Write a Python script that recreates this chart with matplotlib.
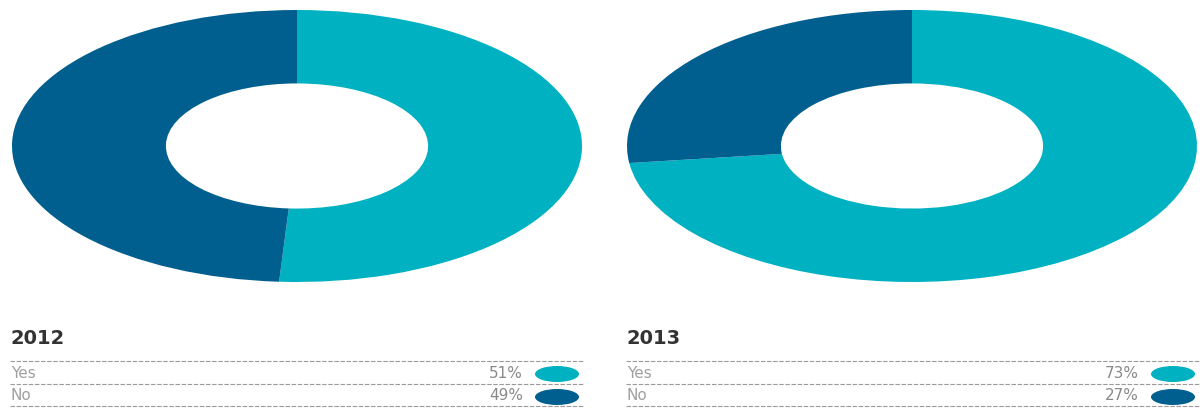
import matplotlib.pyplot as plt
from matplotlib.patches import Ellipse

## survey answers per year
years = ["2012", "2013"]
answers = ["Yes", "No"]
share_2012 = [51, 49]
share_2013 = [73, 27]
shares = [share_2012, share_2013]
colors = ["#00b1c1", "#005f8e"]

W, H = 1202, 409
fig = plt.figure(figsize=(W / 100, H / 100), dpi=100)

# overlay axes in pixel units for the legend tables
ov = fig.add_axes([0, 0, 1, 1])
ov.set_xlim(0, W)
ov.set_ylim(H, 0)
ov.axis("off")

panel_x = [10, 626]   # left edge of each panel in px
donut_cx = [297, 912]

for i, year in enumerate(years):
    # donut, stretched to an ellipse
    rx, ry = 285, 136
    cy = 146
    ax = fig.add_axes([(donut_cx[i] - rx) / W, 1 - (cy + ry) / H,
                       2 * rx / W, 2 * ry / H])
    ax.pie(shares[i], colors=colors, startangle=90, counterclock=False,
           radius=1, wedgeprops=dict(width=0.54, linewidth=0))
    ax.set_aspect("auto")
    ax.set_xlim(-1, 1)
    ax.set_ylim(-1, 1)
    ax.axis("off")

    x0 = panel_x[i]
    x1 = x0 + 573
    ov.text(x0 + 1, 339, year, fontsize=14, fontweight="bold",
            family="DejaVu Sans", color="#333333", va="center", ha="left")
    for y in [361, 384, 406]:
        ov.hlines(y, x0, x1, colors="#9a9a9a", linewidth=0.8,
                  linestyles=(0, (4, 1.5)))
    for j, ans in enumerate(answers):
        yc = 373 + 23 * j
        ov.text(x0 + 1, yc, ans, fontsize=11, family="DejaVu Sans",
                color="#a0a0a0", va="center", ha="left")
        ov.text(x1 - 60, yc, f"{shares[i][j]}%", fontsize=11,
                family="DejaVu Sans", color="#8a8a8a", va="center", ha="right")
        ov.add_patch(Ellipse((x1 - 26, yc + 1), 44, 16, facecolor=colors[j],
                             edgecolor="none"))

plt.savefig("out.png", dpi=100)
